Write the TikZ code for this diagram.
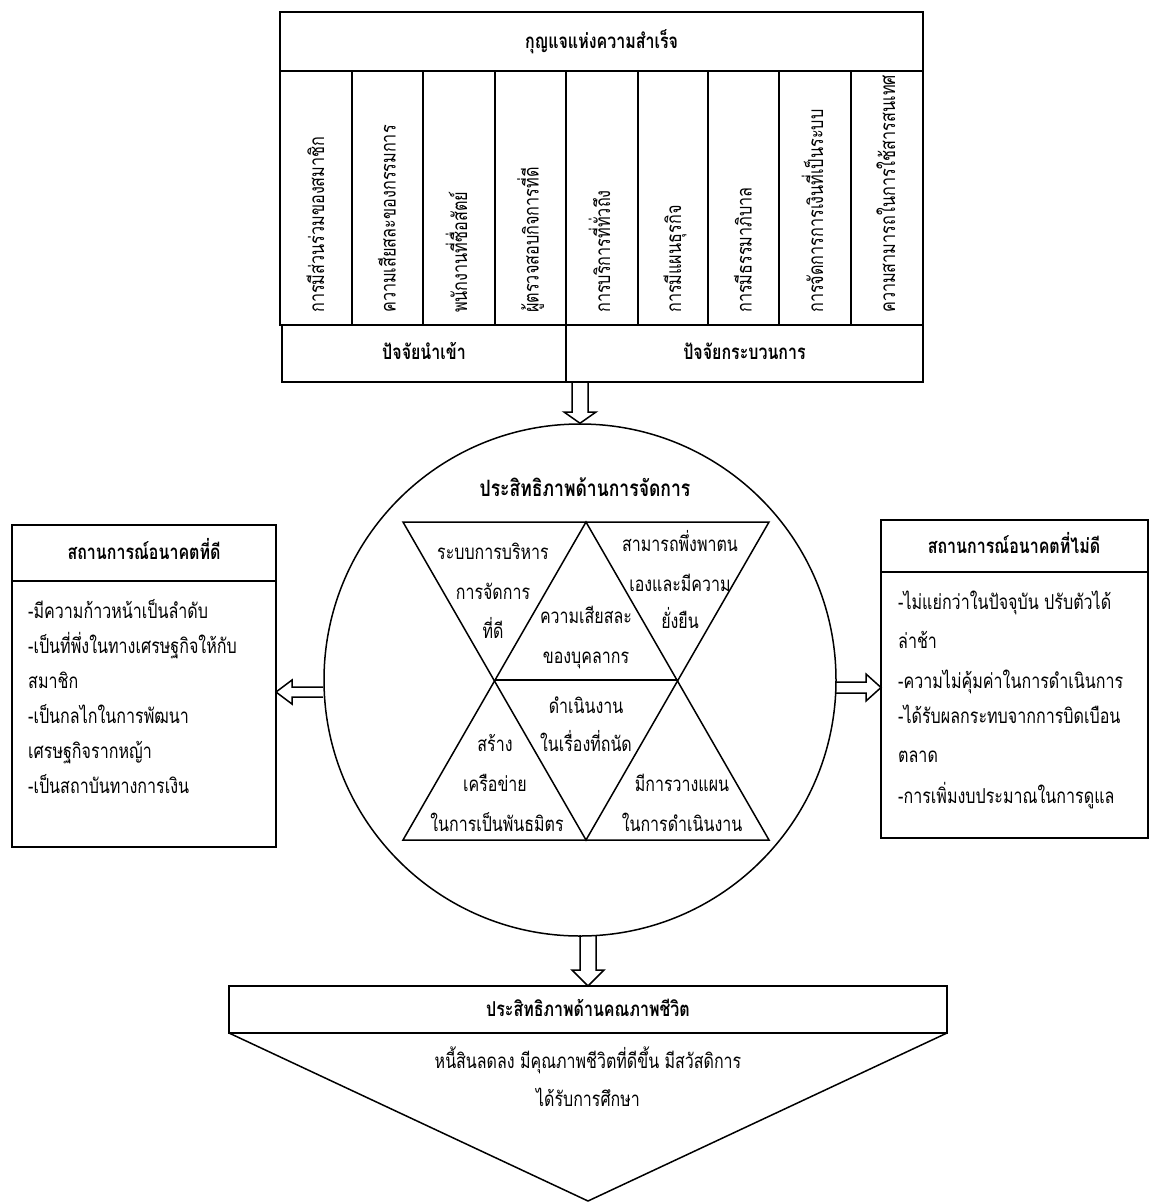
\documentclass[tikz,border=0pt]{standalone}
\usepackage{fontspec}
\newfontfamily\thai[Script=Thai,FakeStretch=0.78]{Loma}
\usetikzlibrary{calc}
\begin{document}
\begin{tikzpicture}[x=1pt,y=-1pt,line join=miter]
\tikzset{
 ln/.style={line width=1.5pt},
 txt/.style={font=\thai\fontsize{20.5}{22}\selectfont, inner sep=0pt, anchor=base},
 hdr/.style={font=\thai\bfseries\fontsize{20.5}{22}\selectfont, inner sep=0pt, anchor=base},
 side/.style={font=\thai\fontsize{20.6}{22}\selectfont, inner sep=0pt, anchor=base west},
 coltxt/.style={font=\thai\fontsize{20.8}{22}\selectfont, inner sep=0pt, rotate=90, anchor=base west},
}
\useasboundingbox (0,0) rectangle (1151,1203);
\fill[white] (0,0) rectangle (1151,1203);

% ---------- top box ----------
\draw[ln] (280,12) rectangle (923,325);
\draw[ln] (280,71) -- (923,71);
\foreach \xx in {352,423,495,566,638,708,779,851}{\draw[ln] (\xx,71) -- (\xx,325);}
\draw[ln] (282,325) rectangle (566,382);
\draw[ln] (566,325) rectangle (923,382);
\node[hdr] (keyt) at (601.5,48) {กุญแจแห่งความสำเร็จ};
\node[coltxt] (c1) at (324,313) {การมีส่วนร่วมของสมาชิก};
\node[coltxt] (c2) at (395.5,313) {ความเสียสละของกรรมการ};
\node[coltxt] (c3) at (467,313) {พนักงานที่ซื่อสัตย์};
\node[coltxt] (c4) at (538.5,313) {ผู้ตรวจสอบกิจการที่ดี};
\node[coltxt] (c5) at (610,313) {การบริการที่ทั่วถึง};
\node[coltxt] (c6) at (681,313) {การมีแผนธุรกิจ};
\node[coltxt] (c7) at (751.5,313) {การมีธรรมาภิบาล};
\node[coltxt] (c8) at (823,313) {การจัดการการเงินที่เป็นระบบ};
\node[coltxt] (c9) at (895,313) {ความสามารถในการใช้สารสนเทศ};
\node[hdr] (inp) at (424,359) {ปัจจัยนำเข้า};
\node[hdr] (proc) at (744.5,359) {ปัจจัยกระบวนการ};

% ---------- circle ----------
\node[draw, ln, circle, minimum size=512pt, inner sep=0pt] (circ) at (580,680) {};
\node[hdr, font=\thai\bfseries\fontsize{22.5}{24}\selectfont] (mgmt) at (585,496) {ประสิทธิภาพด้านการจัดการ};
\draw[ln] (403,522) -- (769,522) -- (586,840) -- cycle;
\draw[ln] (586,522) -- (769,840) -- (403,840) -- cycle;
\draw[ln] (494.5,680) -- (677.5,680);
\node[txt] (t1a) at (493,559) {ระบบการบริหาร};
\node[txt] (t1b) at (493,599) {การจัดการ};
\node[txt] (t1c) at (493,638) {ที่ดี};
\node[txt] (t2a) at (586,623) {ความเสียสละ};
\node[txt] (t2b) at (586,663) {ของบุคลากร};
\node[txt] (t3a) at (680,551) {สามารถพึ่งพาตน};
\node[txt] (t3b) at (680,591) {เองและมีความ};
\node[txt] (t3c) at (680,628) {ยั่งยืน};
\node[txt] (t4a) at (586,713) {ดำเนินงาน};
\node[txt] (t4b) at (586,751) {ในเรื่องที่ถนัด};
\node[txt] (t5a) at (495,751) {สร้าง};
\node[txt] (t5b) at (495,791) {เครือข่าย};
\node[txt] (t5c) at (497,831) {ในการเป็นพันธมิตร};
\node[txt] (t6a) at (682,791) {มีการวางแผน};
\node[txt] (t6b) at (682,831) {ในการดำเนินงาน};

% ---------- left box ----------
\draw[ln] (12,525) rectangle (276,847);
\draw[ln] (12,581) -- (276,581);
\node[hdr] (goodh) at (144,559) {สถานการณ์อนาคตที่ดี};
\node[side] (g1) at (28,618) {-มีความก้าวหน้าเป็นลำดับ};
\node[side] (g2) at (28,653) {-เป็นที่พึ่งในทางเศรษฐกิจให้กับ};
\node[side] (g3) at (28,688) {สมาชิก};
\node[side] (g4) at (28,723) {-เป็นกลไกในการพัฒนา};
\node[side] (g5) at (28,758) {เศรษฐกิจรากหญ้า};
\node[side] (g6) at (28,793) {-เป็นสถาบันทางการเงิน};

% ---------- right box ----------
\draw[ln] (881,520) rectangle (1148,838);
\draw[ln] (881,572) -- (1148,572);
\node[hdr] (badh) at (1014,553) {สถานการณ์อนาคตที่ไม่ดี};
\node[side] (b1) at (898,609) {-ไม่แย่กว่าในปัจจุบัน ปรับตัวได้};
\node[side] (b2) at (898,648) {ล่าช้า};
\node[side] (b3) at (898,688) {-ความไม่คุ้มค่าในการดำเนินการ};
\node[side] (b4) at (898,723) {-ได้รับผลกระทบจากการบิดเบือน};
\node[side] (b5) at (898,762) {ตลาด};
\node[side] (b6) at (898,803) {-การเพิ่มงบประมาณในการดูแล};

% ---------- bottom ----------
\draw[ln] (229,986) rectangle (947,1033);
\draw[ln] (229,1033) -- (588,1201) -- (947,1033);
\node[hdr] (lifeh) at (588,1016) {ประสิทธิภาพด้านคณภาพชีวิต};
\node[txt] (l1) at (588,1068) {หนี้สินลดลง มีคุณภาพชีวิตที่ดีขึ้น มีสวัสดิการ};
\node[txt] (l2) at (588,1106) {ได้รับการศึกษา};

% ---------- block arrows ----------
% top: key box -> circle
\draw[ln] (572,382) -- (572,412) -- (564,412) -- (circ.north) -- (596,412) -- (588,412) -- (588,382);
% left: circle -> left box
\draw[ln] (323,687) -- (292,687) -- (292,680) -- (276,692) -- (292,704) -- (292,697) -- (323,697);
% right: circle -> right box
\draw[ln] (836,682) -- (866,682) -- (866,674) -- (881,687.5) -- (866,701) -- (866,693) -- (836,693);
% bottom: circle -> bottom box
\draw[ln] (580,935) -- (580,970) -- (572,970) -- (588,986) -- (604,970) -- (596,970) -- (596,935);
\end{tikzpicture}
\end{document}
